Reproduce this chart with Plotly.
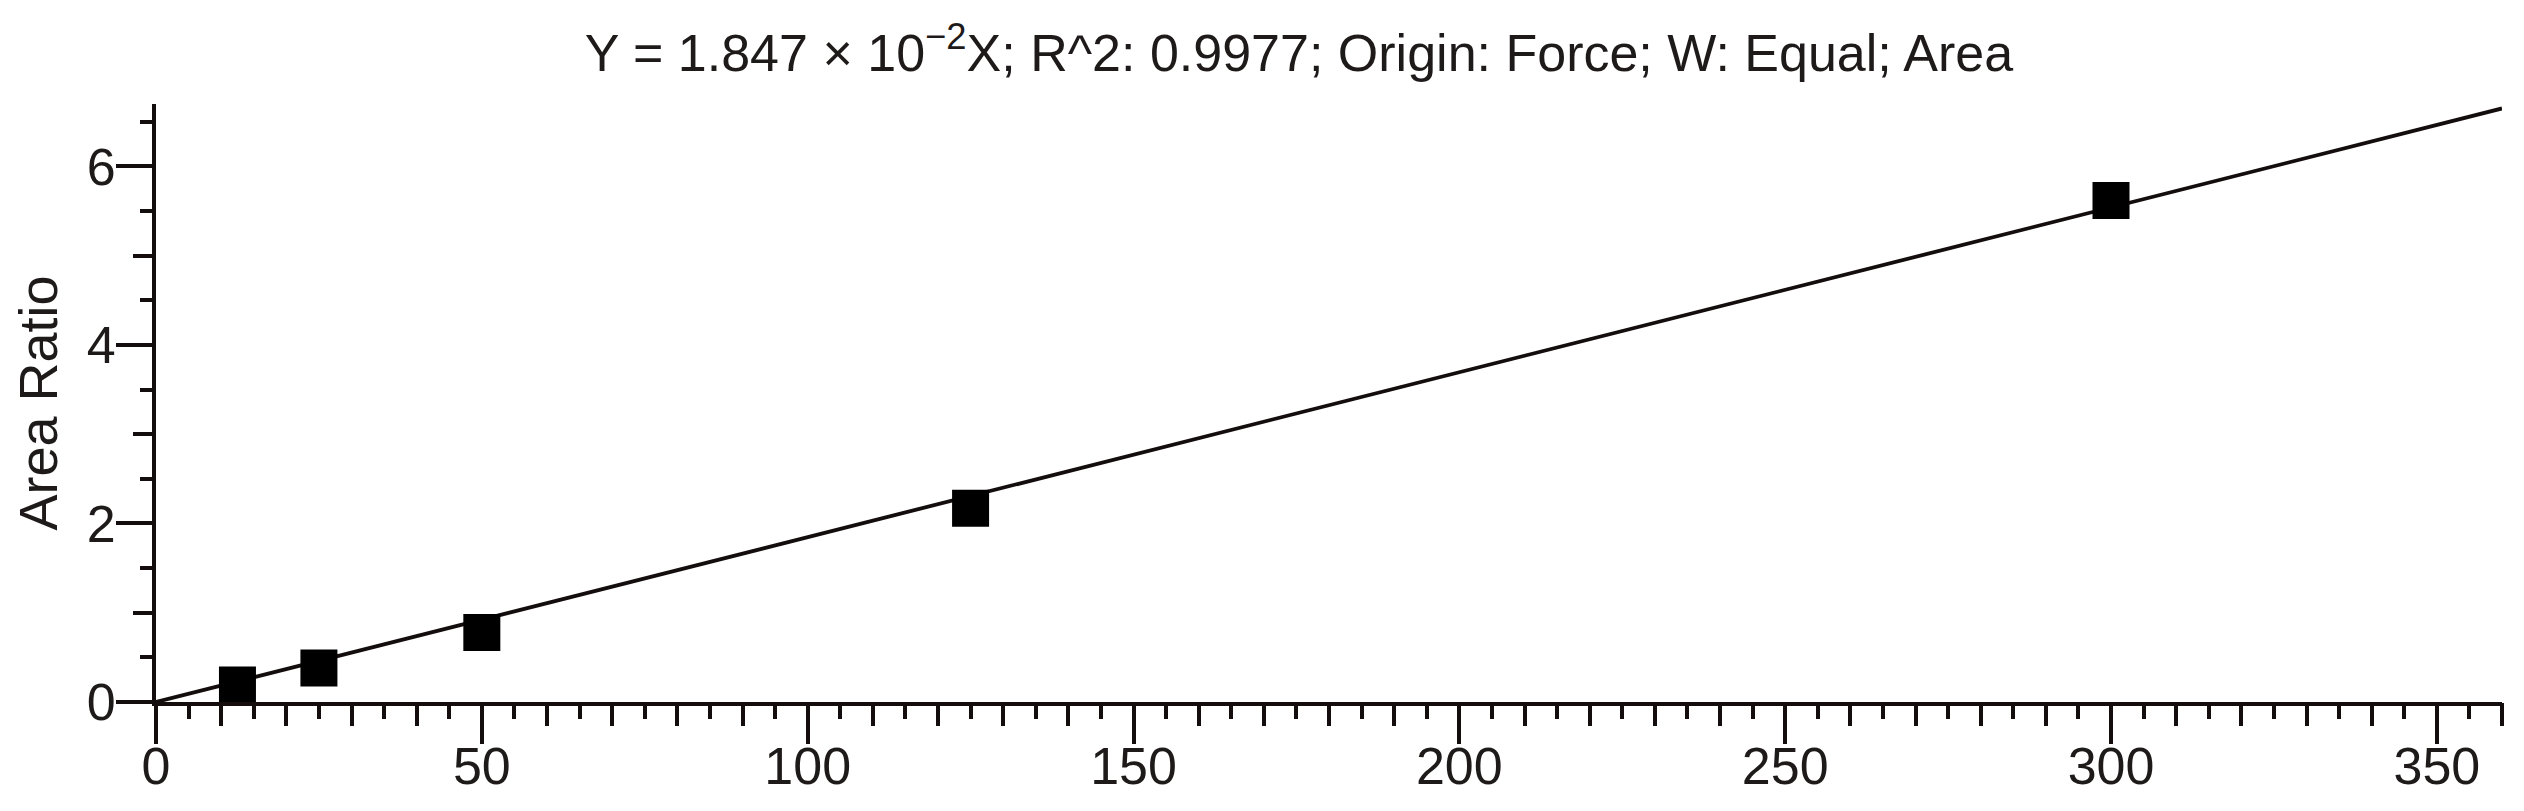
import plotly.graph_objects as go

# Data
conc = [12.5, 25, 50, 125, 300]          # x (concentration)
area_ratio = [0.19, 0.38, 0.78, 2.17, 5.62]  # y (area ratio)
fit_x = [0, 360]
fit_y = [0.0, 6.65]

title_text = "Y = 1.847 × 10<sup>−2</sup>X; R^2: 0.9977; Origin: Force; W: Equal; Area"
y_title = "Area Ratio"
x_range = [0, 360]
y_range = [0, 6.7]

FONT = "Liberation Sans, Arial, sans-serif"
TXT = "#1e1a1a"
LINE = "#140d0d"

fig = go.Figure()
fig.add_trace(go.Scatter(x=fit_x, y=fit_y, mode="lines",
                         line=dict(color=LINE, width=3.8),
                         xaxis="x", yaxis="y", showlegend=False, hoverinfo="skip"))
fig.add_trace(go.Scatter(x=conc, y=area_ratio, mode="markers",
                         marker=dict(symbol="square", size=37, color="#000000",
                                     line=dict(width=0)),
                         xaxis="x2", yaxis="y2", showlegend=False, cliponaxis=False))

common_x = dict(range=x_range, showgrid=False, zeroline=False, fixedrange=True)
common_y = dict(range=y_range, showgrid=False, zeroline=False, fixedrange=True)

fig.update_layout(
    width=2524, height=811,
    paper_bgcolor="white", plot_bgcolor="white",
    margin=dict(l=148, r=30, t=96, b=117, autoexpand=False),
    font=dict(family=FONT, size=52, color=TXT),
    title=dict(text=title_text, x=1291 / 2524, xanchor="center",
               y=1 - 45 / 811, yanchor="middle",
               font=dict(family=FONT, size=52, color=TXT)),
    xaxis=dict(**common_x, showline=True, linecolor=LINE, linewidth=4,
               ticks="outside", tickmode="linear", tick0=0, dtick=50,
               ticklen=38, tickwidth=4, tickcolor=LINE,
               tickfont=dict(family=FONT, size=52, color=TXT),
               ticklabelstandoff=-22,
               minor=dict(ticks="outside", tickmode="linear", tick0=0, dtick=5,
                          ticklen=13, tickwidth=4, tickcolor=LINE),
               automargin=False),
    yaxis=dict(**common_y, showline=True, linecolor=LINE, linewidth=4,
               ticks="outside", tickmode="linear", tick0=0, dtick=2,
               ticklen=36, tickwidth=4, tickcolor=LINE,
               tickfont=dict(family=FONT, size=52, color=TXT),
               ticklabelstandoff=-10,
               minor=dict(ticks="outside", tickmode="linear", tick0=0, dtick=0.5,
                          ticklen=12, tickwidth=4, tickcolor=LINE),
               title=dict(text=y_title, font=dict(family=FONT, size=54, color=TXT),
                          standoff=16),
               automargin=False),
    xaxis2=dict(**common_x, overlaying="x", anchor="y2", side="bottom",
                showline=False, ticks="outside", tickmode="linear", tick0=0, dtick=10,
                ticklen=23, tickwidth=4, tickcolor=LINE, showticklabels=False),
    yaxis2=dict(**common_y, overlaying="y", anchor="x2", side="left",
                showline=False, ticks="outside", tickmode="linear", tick0=0, dtick=1,
                ticklen=22, tickwidth=4, tickcolor=LINE, showticklabels=False),
)

fig.write_html("out.html")
